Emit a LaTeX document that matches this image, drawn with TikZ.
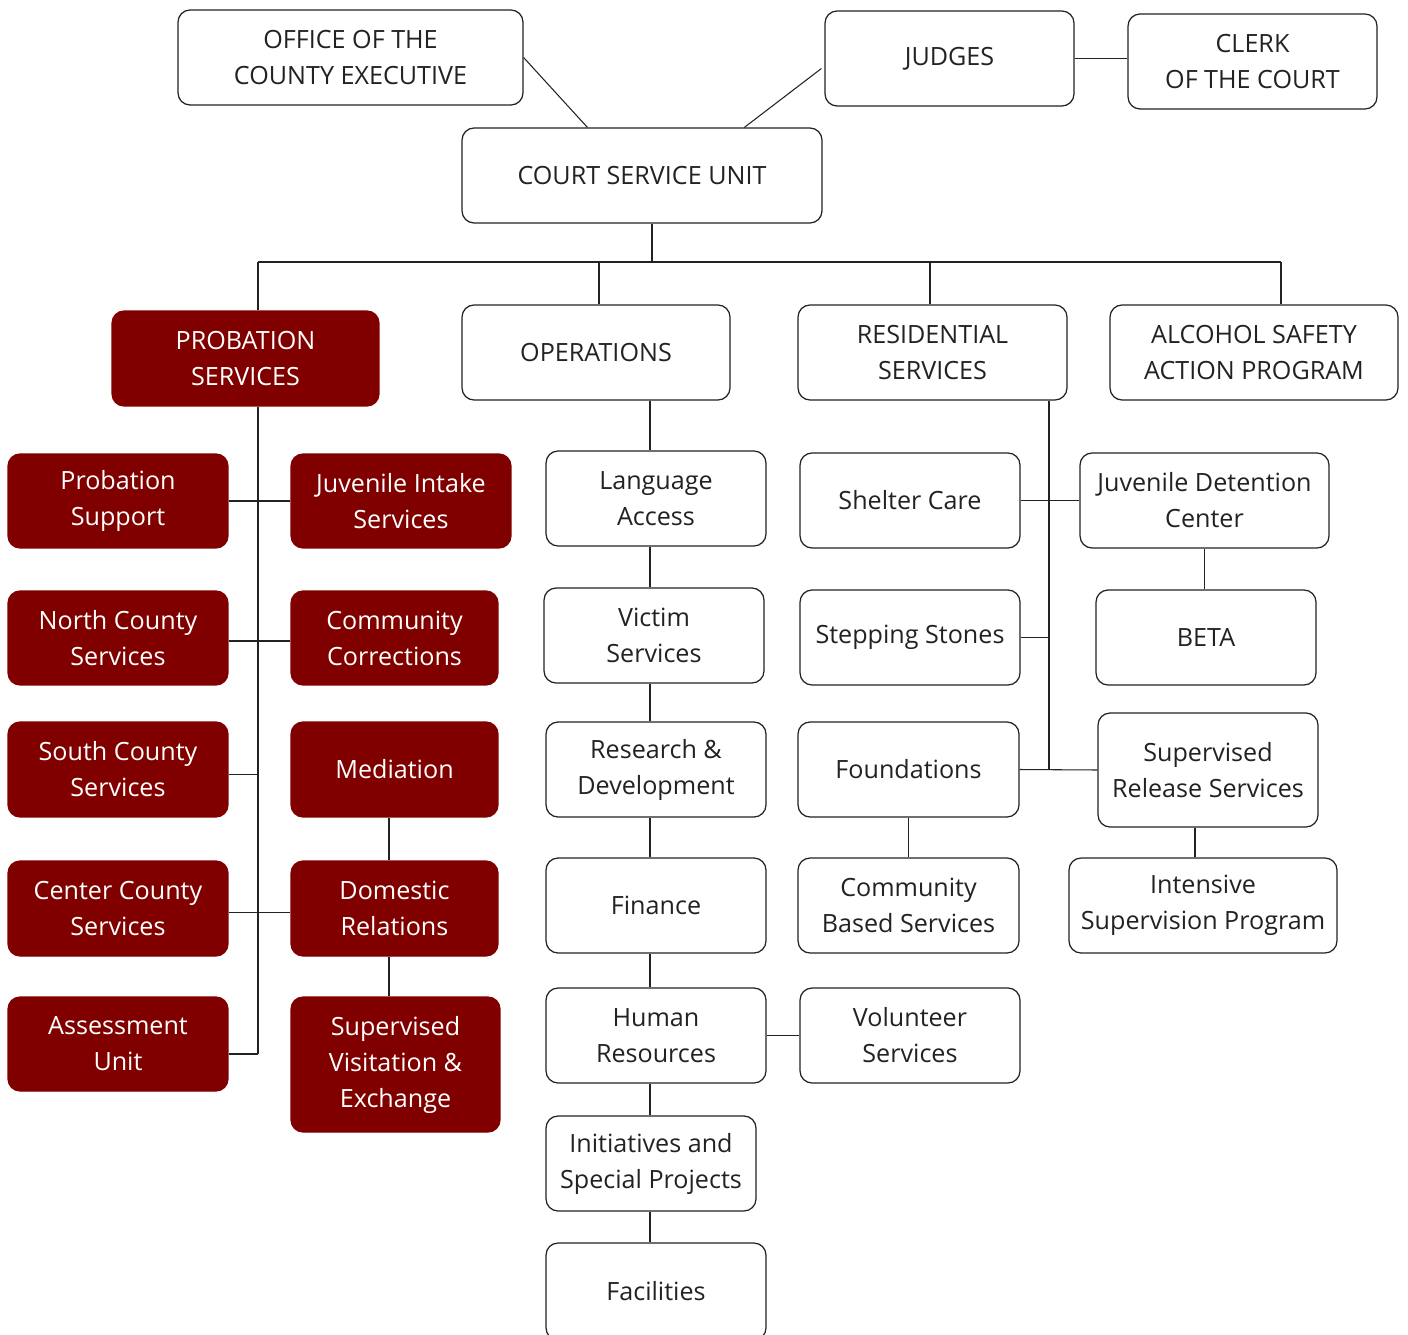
\documentclass[tikz,border=0pt]{standalone}
\usepackage{fontspec}
\setmainfont{Open Sans}
\definecolor{dred}{RGB}{128,0,0}
\definecolor{ink}{RGB}{34,34,34}
\tikzset{
 wbox/.style={draw=ink, line width=0.7pt, rounded corners=0.24cm, fill=white, text=ink, align=center, inner sep=0pt, font=\fontsize{14.3}{20.5}\selectfont},
 rbox/.style={wbox, draw=dred, fill=dred, text=white},
 link/.style={draw=ink, line width=0.6pt}
}
\newcommand\orgbox[7]{\node[#6, minimum width=\fpeval{(#4-#2)*0.02}cm, minimum height=\fpeval{(#5-#3)*0.02}cm] (#1) at ({(#2+#4)/2},{(#3+#5)/2+2}) {#7};}
\begin{document}
\begin{tikzpicture}[x=0.02cm,y=-0.02cm]
\useasboundingbox[fill=white] (0,0) rectangle (1408,1334);
% top
\orgbox{oce}{178}{8}{523}{103}{wbox}{OFFICE OF THE\\COUNTY EXECUTIVE}
\orgbox{judges}{825}{9}{1074}{104}{wbox}{JUDGES}
\orgbox{clerk}{1128}{12}{1377}{107}{wbox}{CLERK\\OF THE COURT}
\orgbox{csu}{462}{126}{822}{221}{wbox}{COURT SERVICE UNIT}
\orgbox{prob}{112}{309}{379}{404}{rbox}{PROBATION\\SERVICES}
\orgbox{ops}{462}{303}{730}{398}{wbox}{OPERATIONS}
\orgbox{res}{798}{303}{1067}{398}{wbox}{RESIDENTIAL\\SERVICES}
\orgbox{asap}{1110}{303}{1398}{398}{wbox}{ALCOHOL SAFETY\\ACTION PROGRAM}
% probation
\orgbox{psup}{8}{452}{228}{546}{rbox}{Probation\\Support}
\orgbox{ncs}{8}{589}{228}{683}{rbox}{North County\\Services}
\orgbox{scs}{8}{720}{228}{815}{rbox}{South County\\Services}
\orgbox{ccs}{8}{859}{228}{954}{rbox}{Center County\\Services}
\orgbox{au}{8}{995}{228}{1089}{rbox}{Assessment\\Unit}
\orgbox{jis}{291}{452}{511}{546}{rbox}{Juvenile Intake\\Services}
\orgbox{cc}{291}{589}{498}{683}{rbox}{Community\\Corrections}
\orgbox{med}{291}{720}{498}{815}{rbox}{Mediation}
\orgbox{dr}{291}{859}{498}{954}{rbox}{Domestic\\Relations}
\orgbox{sve}{291}{995}{500}{1130}{rbox}{Supervised\\Visitation \&\\Exchange}
% operations
\orgbox{la}{546}{449}{766}{544}{wbox}{Language\\Access}
\orgbox{vs}{544}{586}{764}{681}{wbox}{Victim\\Services}
\orgbox{rd}{546}{720}{766}{815}{wbox}{Research \&\\Development}
\orgbox{fin}{546}{856}{766}{951}{wbox}{Finance}
\orgbox{hr}{546}{986}{766}{1081}{wbox}{Human\\Resources}
\orgbox{isp}{546}{1114}{756}{1209}{wbox}{Initiatives and\\Special Projects}
\orgbox{fac}{546}{1241}{766}{1338}{wbox}{Facilities}
\orgbox{vol}{800}{986}{1020}{1081}{wbox}{Volunteer\\Services}
% residential
\orgbox{sc}{800}{451}{1020}{546}{wbox}{Shelter Care}
\orgbox{jdc}{1080}{451}{1329}{546}{wbox}{Juvenile Detention\\Center}
\orgbox{beta}{1096}{588}{1316}{683}{wbox}{BETA}
\orgbox{ss}{800}{588}{1020}{683}{wbox}{Stepping Stones}
\orgbox{fd}{798}{720}{1019}{815}{wbox}{Foundations}
\orgbox{srs}{1098}{711}{1318}{825}{wbox}{Supervised\\Release Services}
\orgbox{cbs}{798}{856}{1019}{951}{wbox}{Community\\Based Services}
\orgbox{isup}{1069}{856}{1337}{951}{wbox}{Intensive\\Supervision Program}
% top connectors
\draw[link] (oce.east) -- ([xshift=2.52cm]csu.north west);
\draw[link] ([yshift=-0.2cm,xshift=-0.06cm]judges.west) -- ([xshift=5.66cm]csu.north west);
\draw[link] (judges.east) -- (judges.east -| clerk.west);
\coordinate (busL) at (258,262);
\coordinate (busR) at (1281,262);
\coordinate (bOps) at (599,262);
\coordinate (bRes) at (930,262);
\draw[link] ([xshift=0.2cm]csu.south) -- ([xshift=0.2cm]csu.south |- busL);
\draw[link] (busL) -- (busR);
\draw[link] (busL) -- (busL |- prob.north);
\draw[link] (bOps) -- (bOps |- ops.north);
\draw[link] (bRes) -- (bRes |- res.north);
\draw[link] (busR) -- (busR |- asap.north);
% probation connectors
\coordinate (pEnd) at (258,1054);
\draw[link] (busL |- prob.south) -- (pEnd);
\draw[link] (psup.east) -- (jis.west);
\draw[link] ([yshift=-0.06cm]ncs.east) -- ([yshift=-0.06cm]cc.west);
\draw[link] ([yshift=-0.1cm]scs.east) -- ([yshift=-0.1cm]scs.east -| pEnd);
\draw[link] ([yshift=-0.08cm]ccs.east) -- ([yshift=-0.08cm]dr.west);
\draw[link] (pEnd) -- (pEnd -| au.east);
\draw[link] ([xshift=-0.11cm]med.south) -- ([xshift=-0.11cm]med.south |- dr.north);
\draw[link] ([xshift=-0.11cm]dr.south) -- ([xshift=-0.11cm]dr.south |- sve.north);
% operations connectors
\coordinate (ox) at (650,0);
\draw[link] (ox |- ops.south) -- (ox |- la.north);
\draw[link] (ox |- la.south) -- (ox |- vs.north);
\draw[link] (ox |- vs.south) -- (ox |- rd.north);
\draw[link] (ox |- rd.south) -- (ox |- fin.north);
\draw[link] (ox |- fin.south) -- (ox |- hr.north);
\draw[link] (ox |- hr.south) -- (ox |- isp.north);
\draw[link] (ox |- isp.south) -- (ox |- fac.north);
\draw[link] (hr.east) -- (vol.west);
% residential connectors
\coordinate (rx) at (1049,0);
\draw[link] (rx |- res.south) -- (rx |- fd.east);
\draw[link] (sc.east) -- (jdc.west);
\draw[link] (ss.east) -- (ss.east -| rx);
\draw[link] (fd.east) -- (srs.west);
\draw[link] (jdc.south) -- (jdc.south |- beta.north);
\draw[link] (fd.south) -- (cbs.north);
\draw[link] ([xshift=-0.26cm]srs.south) -- ([xshift=-0.26cm]srs.south |- isup.north);
\end{tikzpicture}
\end{document}
